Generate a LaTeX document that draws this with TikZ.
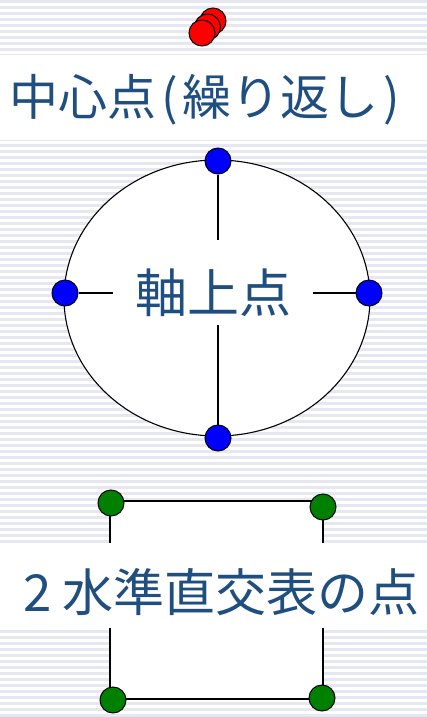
\documentclass[tikz,border=0pt]{standalone}
\usepackage{fontspec}
\usepackage{xcolor}
\usepackage{tikz}
\newfontfamily\jpfont{Noto Sans CJK JP}
\definecolor{AzulTexto}{RGB}{31,78,128}
\definecolor{RayaFondo}{RGB}{231,231,241}
\definecolor{PuntoRojo}{RGB}{255,0,0}
\definecolor{PuntoAzul}{RGB}{0,0,255}
\definecolor{PuntoVerde}{RGB}{0,128,0}

\begin{document}
\begin{tikzpicture}[x=1pt,y=-1pt,line width=1.1pt,
    dot/.style={circle,draw=black,line width=1pt,minimum size=26pt,inner sep=0pt},
    etiqueta/.style={text=AzulTexto,inner sep=0pt,font=\jpfont\fontsize{49}{56}\selectfont}]
  \useasboundingbox (0,0) rectangle (427,717);
  % fondo rayado
  \foreach \y in {0,6,...,714}
    \fill[RayaFondo] (0,\y) rectangle (427,\y+3);
  % centro
  \node[dot,fill=PuntoRojo] (c3) at (213,21) {};
  \node[dot,fill=PuntoRojo] (c2) at (207.5,27) {};
  \node[dot,fill=PuntoRojo] (c1) at (202,33) {};
  \fill[white] (0,55) rectangle (427,140);
  \node[etiqueta] (centro) at (205,100) {中心点\hspace{5pt}(\hspace{5pt}繰り返し\hspace{5pt})};
  % ejes
  \draw[fill=white] (217,298) ellipse [x radius=153,y radius=138];
  \node[etiqueta,font=\jpfont\fontsize{52}{60}\selectfont] (eje) at (213,293) {軸上点};
  \coordinate (cutN) at (218,240);
  \coordinate (cutS) at (218,325);
  \coordinate (cutW) at (113,293);
  \coordinate (cutE) at (313,293);
  \node[dot,fill=PuntoAzul] (aN) at (218,161) {};
  \node[dot,fill=PuntoAzul] (aS) at (218,438) {};
  \node[dot,fill=PuntoAzul] (aW) at (65,293) {};
  \node[dot,fill=PuntoAzul] (aE) at (369,293) {};
  \draw (aN) -- (cutN);
  \draw (aS) -- (cutS);
  \draw (aW) -- (cutW);
  \draw (aE) -- (cutE);
  % factorial
  \draw[fill=white] (110,501) rectangle (323,699);
  \node[dot,fill=PuntoVerde] (fNW) at (111,503) {};
  \node[dot,fill=PuntoVerde] (fNE) at (323,507) {};
  \node[dot,fill=PuntoVerde] (fSW) at (113,700) {};
  \node[dot,fill=PuntoVerde] (fSE) at (322,698) {};
  \fill[white] (0,543) rectangle (427,628);
  \node[etiqueta,font=\jpfont\fontsize{51}{60}\selectfont] (tabla) at (221.5,592) {2\hspace{10pt}水準直交表の点};
\end{tikzpicture}
\end{document}
